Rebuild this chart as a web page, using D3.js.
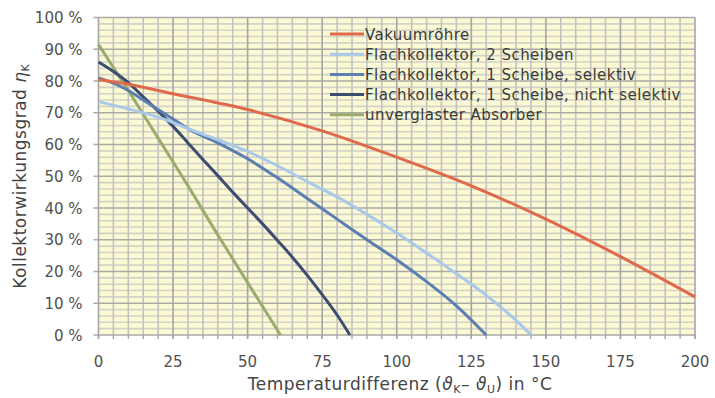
<!DOCTYPE html>
<meta charset="utf-8">
<html>
<head>
  <style>
  body { margin: 0; background: #fff; }
  text { font-family: "DejaVu Sans", Verdana, sans-serif; fill: #505050; }
  text.tick { font-size: 15px; }
  text.legend { font-size: 15px; fill: #3a3a3a; letter-spacing: 0.45px; }
  text.title { font-size: 17px; fill: #444; letter-spacing: 0.5px; }
  </style>
  <script src="https://cdn.jsdelivr.net/npm/d3@7"></script>
</head>
<body>
  <div id="chart"></div>
  <script type="text/javascript">
  // Series names (legend order)
  var seriesNames = ["Vakuumröhre", "Flachkollektor, 2 Scheiben", "Flachkollektor, 1 Scheibe, selektiv",
                     "Flachkollektor, 1 Scheibe, nicht selektiv", "unverglaster Absorber"];
  var seriesColors = ["#e0694b", "#a9c9e8", "#5a7fb1", "#3c4d70", "#9aab6c"];

  // Temperature difference (x) and efficiency in % (y) per collector
  var vakuumT   = [0, 10, 25, 50, 75, 100, 125, 150, 175, 200];
  var vakuumEta = [80.5, 79, 76, 71, 64.3, 56, 47, 36.5, 24.7, 12];

  var flach2T   = [0, 10, 20, 30, 40, 50, 60, 70, 80, 90, 100, 110, 120, 130, 140, 145];
  var flach2Eta = [73.5, 71.2, 68.6, 65, 61.5, 57.8, 53.3, 48.3, 43.5, 38, 32.1, 25.8, 19.3, 12.5, 4.6, 0];

  var selT   = [0, 5, 10, 15, 20, 25, 30, 40, 50, 60, 70, 80, 90, 100, 110, 120, 130];
  var selEta = [81, 79.3, 77, 74, 71, 68, 65, 60.5, 55.5, 49.5, 43, 36.5, 30, 23.7, 16.8, 9.2, 0];

  var nichtSelT   = [0, 5, 10, 15, 20, 25, 30, 35, 40, 45, 50, 55, 60, 65, 70, 75, 80, 84.3];
  var nichtSelEta = [86, 83, 79.5, 75, 70.5, 65.7, 60.5, 55.3, 50.2, 45, 40, 35, 29.8, 24.5, 18.8, 12.7, 6.3, 0];

  var absT   = [0, 10, 20, 30, 40, 50, 61];
  var absEta = [91.5, 77, 62, 47, 31.5, 16.5, 0];

  // Axis ticks
  var xTicks = [0, 25, 50, 75, 100, 125, 150, 175, 200];
  var yTicks = [0, 10, 20, 30, 40, 50, 60, 70, 80, 90, 100];

  var seriesT = [vakuumT, flach2T, selT, nichtSelT, absT];
  var seriesEta = [vakuumEta, flach2Eta, selEta, nichtSelEta, absEta];

  var W = 715, H = 398;
  var margin = { top: 17.5, right: 20, bottom: 63, left: 98.5 };

  var x = d3.scaleLinear().domain([0, 200]).range([margin.left, W - margin.right]);
  var y = d3.scaleLinear().domain([0, 100]).range([H - margin.bottom, margin.top]);

  var svg = d3.select("#chart").append("svg")
    .attr("width", W)
    .attr("height", H);

  // Plot background
  svg.append("rect")
    .attr("x", x(0)).attr("y", y(100))
    .attr("width", x(200) - x(0)).attr("height", y(0) - y(100))
    .attr("fill", "#fcfad4");

  // Minor horizontal grid (every 2 %)
  svg.append("g").selectAll("line")
    .data(d3.range(0, 101, 2).filter(function(d) { return d % 10 != 0; }))
    .enter().append("line")
    .attr("x1", x(0)).attr("x2", x(200))
    .attr("y1", function(d) { return y(d); }).attr("y2", function(d) { return y(d); })
    .attr("stroke", "#d4d2c6").attr("stroke-width", 1.6);

  // Minor vertical grid (every 5)
  svg.append("g").selectAll("line")
    .data(d3.range(0, 201, 5).filter(function(d) { return d % 25 != 0; }))
    .enter().append("line")
    .attr("y1", y(0)).attr("y2", y(100))
    .attr("x1", function(d) { return x(d); }).attr("x2", function(d) { return x(d); })
    .attr("stroke", "#c2c2c0").attr("stroke-width", 1.6);

  // Major grid
  svg.append("g").selectAll("line")
    .data(yTicks)
    .enter().append("line")
    .attr("x1", x(0) - 5).attr("x2", x(200))
    .attr("y1", function(d) { return y(d); }).attr("y2", function(d) { return y(d); })
    .attr("stroke", "#a9a9a6").attr("stroke-width", 1.6);

  svg.append("g").selectAll("line")
    .data(xTicks)
    .enter().append("line")
    .attr("y1", y(100)).attr("y2", y(0) + 4)
    .attr("x1", function(d) { return x(d); }).attr("x2", function(d) { return x(d); })
    .attr("stroke", "#a6a6a6").attr("stroke-width", 1.6);

  // Small ticks under x axis
  svg.append("g").selectAll("line")
    .data(d3.range(0, 201, 5))
    .enter().append("line")
    .attr("y1", y(0)).attr("y2", y(0) + 4)
    .attr("x1", function(d) { return x(d); }).attr("x2", function(d) { return x(d); })
    .attr("stroke", "#a6a6a6").attr("stroke-width", 1.4);

  // Tick labels
  svg.append("g").selectAll("text")
    .data(yTicks)
    .enter().append("text")
    .attr("class", "tick")
    .attr("x", x(0) - 16)
    .attr("y", function(d) { return y(d) + 5.5; })
    .attr("text-anchor", "end")
    .text(function(d) { return d + " %"; });

  svg.append("g").selectAll("text")
    .data(xTicks)
    .enter().append("text")
    .attr("class", "tick")
    .attr("x", function(d) { return x(d); })
    .attr("y", y(0) + 32)
    .attr("text-anchor", "middle")
    .text(function(d) { return d; });

  // Curves
  var line = d3.line()
    .x(function(d) { return x(d[0]); })
    .y(function(d) { return y(d[1]); })
    .curve(d3.curveMonotoneX);

  // draw in reverse so the red curve lies on top
  for (var s = seriesNames.length - 1; s >= 0; --s) {
    var pts = seriesT[s].map(function(t, i) { return [t, seriesEta[s][i]]; });
    svg.append("path")
      .datum(pts)
      .attr("d", line)
      .attr("fill", "none")
      .attr("stroke", seriesColors[s])
      .attr("stroke-width", 3)
      .attr("stroke-linejoin", "round");
  }

  // Legend
  var legend = svg.selectAll(".legend")
    .data(seriesNames)
    .enter().append("g");
  legend.append("line")
    .attr("x1", 330).attr("x2", 364)
    .attr("y1", function(d, i) { return 34 + i * 20.2; })
    .attr("y2", function(d, i) { return 34 + i * 20.2; })
    .attr("stroke", function(d, i) { return seriesColors[i]; })
    .attr("stroke-width", 3);
  legend.append("text")
    .attr("class", "legend")
    .attr("x", 365)
    .attr("y", function(d, i) { return 39.5 + i * 20.2; })
    .text(function(d) { return d; });

  // Axis titles
  var xt = svg.append("text")
    .attr("class", "title")
    .attr("x", 400)
    .attr("y", 390)
    .attr("text-anchor", "middle");
  xt.append("tspan").text("Temperaturdifferenz (");
  xt.append("tspan").attr("font-style", "italic").text("ϑ");
  xt.append("tspan").attr("font-size", "11px").attr("dy", 3).text("K");
  xt.append("tspan").attr("dy", -3).text("– ");
  xt.append("tspan").attr("font-style", "italic").text("ϑ");
  xt.append("tspan").attr("font-size", "11px").attr("dy", 3).text("U");
  xt.append("tspan").attr("dy", -3).text(") in °C");

  var yt = svg.append("text")
    .attr("class", "title")
    .attr("transform", "translate(26," + ((y(0) + y(100)) / 2) + ") rotate(-90)")
    .attr("text-anchor", "middle");
  yt.append("tspan").text("Kollektorwirkungsgrad ");
  yt.append("tspan").attr("font-style", "italic").text("η");
  yt.append("tspan").attr("font-size", "11px").attr("dy", 3).text("K");
  </script>
</body>
</html>
